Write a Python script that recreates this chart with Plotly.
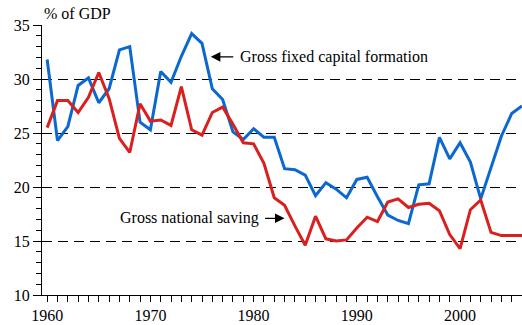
import plotly.graph_objects as go

# Years covered by both series
years = list(range(1960, 2007))

# Gross fixed capital formation, % of GDP
capital_formation = [
    31.8, 24.3, 25.6, 29.4, 30.1, 27.8, 29.1, 32.7, 33.0, 26.0,
    25.3, 30.7, 29.7, 32.1, 34.2, 33.3, 29.1, 28.1, 25.1, 24.4,
    25.4, 24.6, 24.6, 21.7, 21.6, 21.1, 19.2, 20.4, 19.8, 19.0,
    20.7, 20.9, 19.1, 17.4, 16.9, 16.6, 20.2, 20.3, 24.6, 22.6,
    24.1, 22.3, 18.9, 21.8, 24.7, 26.8, 27.5,
]

# Gross national saving, % of GDP
national_saving = [
    25.5, 28.0, 28.0, 26.9, 28.3, 30.6, 28.2, 24.5, 23.2, 27.7,
    26.1, 26.2, 25.7, 29.3, 25.3, 24.8, 26.9, 27.4, 25.8, 24.1,
    24.0, 22.2, 19.0, 18.3, 16.4, 14.6, 17.3, 15.2, 15.0, 15.1,
    16.2, 17.2, 16.8, 18.6, 18.9, 18.1, 18.4, 18.5, 17.8, 15.6,
    14.3, 17.9, 18.8, 15.8, 15.5, 15.5, 15.5,
]

y_ticks = [10, 15, 20, 25, 30, 35]
x_ticks = [1960, 1970, 1980, 1990, 2000]

SERIF = "Liberation Serif"
BLUE = "#0a68cf"
RED = "#d9201e"

fig = go.Figure()
fig.add_trace(go.Scatter(x=years, y=capital_formation, mode="lines",
                         line=dict(color=BLUE, width=3), hoverinfo="skip"))
fig.add_trace(go.Scatter(x=years, y=national_saving, mode="lines",
                         line=dict(color=RED, width=3), hoverinfo="skip"))

fig.update_layout(
    width=522, height=325,
    margin=dict(l=42, r=0, t=25, b=30),
    paper_bgcolor="white", plot_bgcolor="white",
    showlegend=False,
    font=dict(family=SERIF, size=16, color="black"),
    xaxis=dict(
        range=[1959.5, 2006.0],
        tickvals=x_ticks, ticktext=[str(v) for v in x_ticks],
        ticks="outside", ticklen=6, tickwidth=1, tickcolor="black",
        minor=dict(dtick=1, tick0=1960, ticks="outside", ticklen=6,
                   tickwidth=1, tickcolor="black", showgrid=False),
        showline=True, linecolor="black", linewidth=1,
        showgrid=False, zeroline=False,
        tickfont=dict(family=SERIF, size=16, color="black"),
    ),
    yaxis=dict(
        range=[10, 35],
        tickvals=y_ticks, ticktext=[str(v) for v in y_ticks],
        ticks="outside", ticklen=8, tickwidth=1, tickcolor="black",
        minor=dict(dtick=1, tick0=10, ticks="outside", ticklen=5,
                   tickwidth=1, tickcolor="black", showgrid=False),
        showline=True, linecolor="black", linewidth=1,
        showgrid=True, gridcolor="black", gridwidth=1, griddash="10px,6px",
        zeroline=False,
        tickfont=dict(family=SERIF, size=16, color="black"),
    ),
)

# Axis unit label
fig.add_annotation(text="% of GDP", xref="paper", yref="paper",
                   x=0, y=1.044, xanchor="left", yanchor="middle",
                   showarrow=False, font=dict(family=SERIF, size=16))

# Series labels with pointer arrows
fig.add_annotation(text="", x=1975.85, y=32.05, ax=24, ay=0,
                   showarrow=True, arrowhead=2, arrowsize=1.6,
                   arrowwidth=1.2, arrowcolor="black")
fig.add_annotation(text="Gross fixed capital formation", x=1978.5, y=32.05,
                   xanchor="left", yanchor="middle", showarrow=False,
                   font=dict(family=SERIF, size=16))

fig.add_annotation(text="", x=1983.0, y=17.1, ax=-21, ay=0,
                   showarrow=True, arrowhead=2, arrowsize=1.6,
                   arrowwidth=1.2, arrowcolor="black")
fig.add_annotation(text="Gross national saving", x=1980.7, y=17.1,
                   xanchor="right", yanchor="middle", showarrow=False,
                   font=dict(family=SERIF, size=16))

fig.write_html("out.html")
